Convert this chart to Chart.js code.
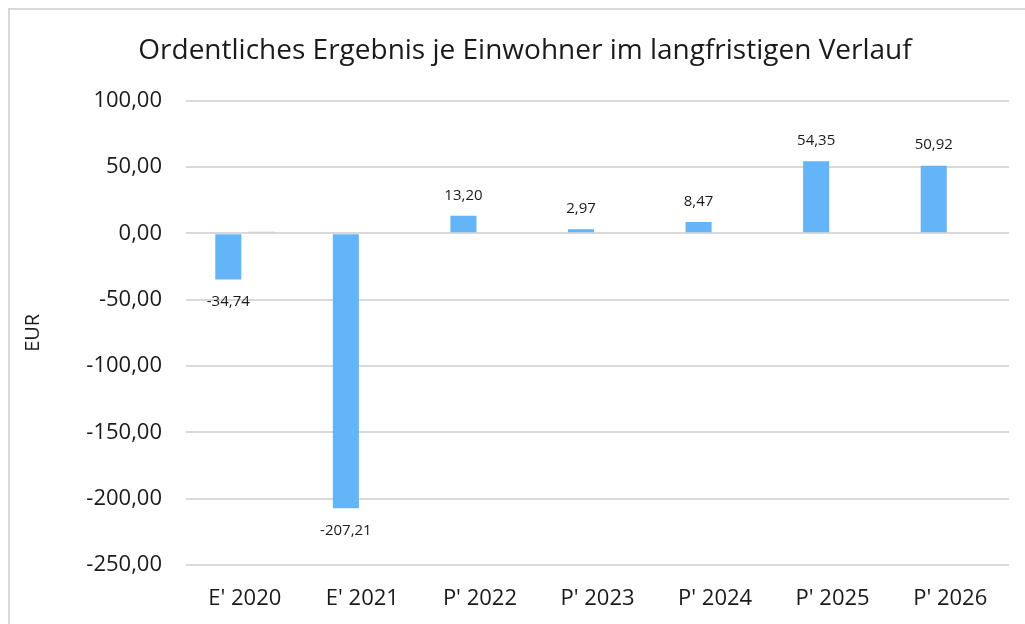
<!DOCTYPE html>
<html>
<head>
<meta charset="utf-8">
<script src="https://cdn.jsdelivr.net/npm/chart.js@4/dist/chart.umd.min.js"></script>
<style>
    html, body { margin: 0; padding: 0; background: #fff; }
    #wrap { width: 1025px; height: 624px; position: relative; }
</style>
</head>
<body>
<div id="wrap"><canvas id="ergebnisChart"></canvas></div>
<script>
const categories = ["E' 2020", "E' 2021", "P' 2022", "P' 2023", "P' 2024", "P' 2025", "P' 2026"]
const ergebnis = [-34.74, -207.21, 13.20, 2.97, 8.47, 54.35, 50.92]
const nebenwert = [1.2, null, null, null, null, null, null]
const yTicks = [100, 50, 0, -50, -100, -150, -200, -250]

const fontFamily = "'Open Sans', 'Noto Sans', sans-serif"
const fmt = v => v.toFixed(2).replace('.', ',')

// draws the value above/below each blue bar
const valueLabels = {
    id: 'valueLabels',
    afterDatasetsDraw(chart) {
        const ctx = chart.ctx
        const meta = chart.getDatasetMeta(0)
        ctx.save()
        ctx.font = "15px " + fontFamily
        ctx.fillStyle = "#1a1a1a"
        ctx.textAlign = "center"
        meta.data.forEach((bar, i) => {
            const v = ergebnis[i]
            if(v >= 0)
            {
                ctx.textBaseline = "bottom"
                ctx.fillText(fmt(v), bar.x, bar.y - 13)
            }
            else
            {
                ctx.textBaseline = "top"
                ctx.fillText(fmt(v), bar.x, bar.y + 15)
            }
        })
        ctx.restore()
    }
}

// thin frame line on the top and left edge
const frame = {
    id: 'frame',
    beforeDraw(chart) {
        const ctx = chart.ctx
        ctx.save()
        ctx.strokeStyle = "#d9d9d9"
        ctx.lineWidth = 2
        ctx.beginPath()
        ctx.moveTo(9, chart.height)
        ctx.lineTo(9, 9)
        ctx.lineTo(chart.width, 9)
        ctx.stroke()
        ctx.restore()
    }
}

const graphConfig = {
    type: 'bar',
    data: {
        labels: categories,
        datasets: [{
            label: "Ordentliches Ergebnis je Einwohner",
            backgroundColor: "#63b5f7",
            data: ergebnis,
        }, {
            label: "Nebenwert",
            backgroundColor: "#bfbfbf",
            data: nebenwert,
        }],
    },
    options: {
        responsive: false,
        animation: false,
        devicePixelRatio: 1,
        categoryPercentage: 0.561,
        barPercentage: 0.79,
        layout: {
            padding: { left: 41, right: 16, top: 0, bottom: 12 }
        },
        scales: {
            x: {
                grid: { display: false, drawTicks: false },
                border: { display: false },
                afterFit: scale => {
                    scale.height = 47
                },
                ticks: {
                    color: "#1a1a1a",
                    font: { family: fontFamily, size: 22 },
                    padding: 21,
                    maxRotation: 0,
                }
            },
            y: {
                min: -250,
                max: 100,
                afterBuildTicks: scale => {
                    scale.ticks = yTicks.map(v => ({ value: v }))
                },
                afterFit: scale => {
                    scale.width = 145
                },
                grid: { color: "#d9d9d9", lineWidth: 2, drawTicks: false },
                border: { display: false },
                ticks: {
                    color: "#1a1a1a",
                    font: { family: fontFamily, size: 22 },
                    padding: 24,
                    callback: v => fmt(v),
                },
                title: {
                    display: true,
                    text: "EUR",
                    color: "#1a1a1a",
                    font: { family: fontFamily, size: 20 },
                    padding: { top: -20, bottom: 0 },
                }
            },
        },
        plugins: {
            legend: { display: false },
            tooltip: { enabled: false },
            title: {
                display: true,
                text: "Ordentliches Ergebnis je Einwohner im langfristigen Verlauf",
                color: "#1a1a1a",
                font: { family: fontFamily, size: 28, weight: 'normal' },
                padding: { top: 34, bottom: 33 },
            },
        },
    },
    plugins: [frame, valueLabels],
}

const ctx = document.getElementById("ergebnisChart")
ctx.width = 1025
ctx.height = 624
const myChart = new Chart(ctx, graphConfig)
</script>
</body>
</html>
